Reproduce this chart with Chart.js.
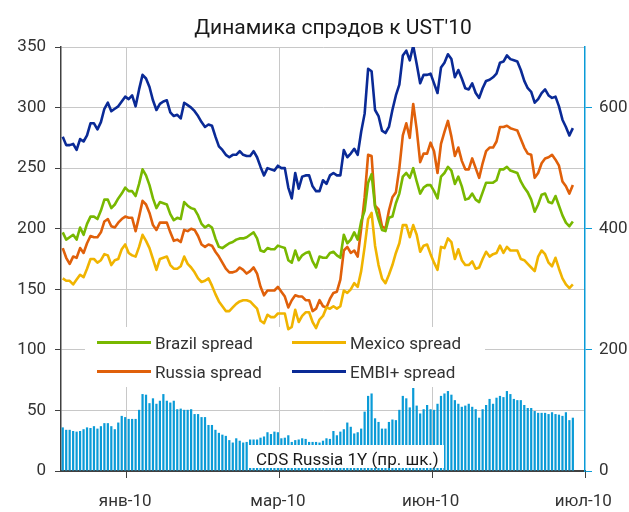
<!DOCTYPE html>
<html>
<head>
<meta charset="utf-8">
<script src="https://cdn.jsdelivr.net/npm/chart.js@4"></script>
<style>
html,body{margin:0;padding:0;background:#fff;}
#wrap{width:629px;height:512px;position:relative;}
</style>
</head>
<body>
<div id="wrap"><canvas id="c" width="629" height="512"></canvas></div>
<script>
// ---------- data ----------
const chartTitle = "Динамика спрэдов к UST'10";
const categoryCount = 151;
const categories = Array.from({length: categoryCount}, (_, i) => String(i + 1));
const tickLabels = ['янв-10', 'мар-10', 'июн-10', 'июл-10'];
const tickLabelIndex = [18, 62, 106, 150];
const tickMarkIndex = [19, 63, 107, 151];
const leftTicks = [0, 50, 100, 150, 200, 250, 300, 350];
const rightTicks = [0, 200, 400, 600];
const cdsLabel = 'CDS Russia 1Y (пр. шк.)';

const brazil = [197,191,193,195,191,201,195,204,210,210,
 208,215,224,224,217,220,225,229,234,231,
 231,227,237,249,244,236,225,217,222,221,
 220,212,207,209,208,222,219,217,216,211,
 204,201,203,201,192,185,184,186,188,189,
 191,192,192,193,195,197,192,182,181,184,
 183,183,186,185,184,174,172,182,174,178,
 180,181,173,168,177,176,176,180,181,178,
 176,195,188,191,197,191,206,215,238,245,
 218,208,199,198,209,210,221,229,243,246,
 242,250,239,229,234,236,236,231,225,243,
 246,251,248,237,243,235,224,225,229,224,
 222,230,238,238,238,240,249,249,251,248,
 247,246,239,234,230,224,214,220,228,229,
 222,221,227,219,211,205,202,206];

const mexico = [159,157,157,154,158,162,160,167,175,175,
 172,174,179,178,170,174,175,183,187,180,
 178,177,185,195,190,184,175,166,175,176,
 177,170,167,167,169,177,171,168,164,159,
 156,157,159,153,146,140,136,132,132,135,
 138,140,141,141,140,137,134,124,122,129,
 127,127,130,130,130,117,119,133,123,128,
 131,131,123,118,125,128,135,134,136,134,
 136,149,147,150,155,152,165,185,208,213,
 186,170,159,155,162,170,180,188,203,203,
 193,203,195,181,186,187,179,172,166,185,
 184,192,189,175,183,174,170,170,173,167,
 168,175,181,177,179,180,186,180,185,182,
 182,182,175,174,171,168,165,177,182,179,
 172,169,176,167,159,154,151,154];

const russia = [184,176,171,177,176,184,180,188,194,193,
 193,197,206,208,202,201,205,208,210,209,
 209,198,210,223,220,213,203,199,205,205,
 205,197,190,191,189,199,198,200,199,194,
 187,185,187,186,181,177,172,167,164,164,
 165,168,166,163,165,168,163,152,145,149,
 149,149,152,148,144,135,141,145,144,144,
 141,141,132,134,141,136,135,142,147,148,
 158,182,185,180,182,177,200,226,261,260,
 219,216,202,200,215,226,230,250,277,287,
 275,303,282,255,262,262,271,264,246,270,
 280,289,276,260,267,256,249,249,258,250,
 242,254,264,267,267,272,284,284,285,283,
 282,281,274,267,262,261,242,246,254,258,
 259,261,257,252,239,235,229,236];

const embi = [276,269,269,270,265,274,272,277,287,287,
 282,288,299,304,297,299,301,305,309,307,
 310,301,315,327,324,317,306,298,303,305,
 306,296,293,294,291,304,302,300,297,293,
 288,284,286,285,276,268,265,261,259,261,
 261,264,261,260,260,264,259,251,244,250,
 249,248,252,250,250,234,225,246,233,243,
 244,244,235,231,231,240,237,244,246,244,
 244,265,259,262,266,261,280,295,332,330,
 298,293,281,279,284,298,310,319,343,347,
 339,351,336,320,327,327,328,320,312,333,
 337,344,340,325,331,324,316,315,320,312,
 308,316,322,323,325,328,337,338,343,340,
 339,338,331,322,316,313,304,307,312,315,
 310,308,309,301,290,284,277,283];

const cdsRussia1Y = [72,68,68,66,65,66,69,72,71,74,
 70,74,79,79,74,69,80,91,89,86,
 86,86,101,127,126,112,120,111,116,127,
 116,113,116,102,103,101,101,102,94,94,
 89,89,76,76,68,63,60,58,51,47,
 54,50,47,48,52,52,52,55,57,64,
 61,65,64,54,55,59,48,51,52,54,
 53,48,48,48,47,50,54,53,66,59,
 65,69,80,73,62,64,70,98,124,128,
 87,81,70,70,81,85,84,101,124,120,
 105,137,108,95,102,109,102,101,111,124,
 128,132,126,117,111,106,108,111,106,102,
 88,102,109,119,111,121,124,122,132,127,
 119,117,117,109,104,104,99,96,96,96,
 94,97,94,93,91,97,84,88];

// ---------- styles ----------
const FONT = 'Roboto';
const TEXT = '#333333';
const GRID = '#c8c8c8';
const AXIS = '#404040';
const C_BRAZIL = '#78b800';
const C_MEXICO = '#f0b400';
const C_RUSSIA = '#e0600a';
const C_EMBI = '#0a2a96';
const C_CDS = '#0a9bd7';

Chart.defaults.font.family = FONT;
Chart.defaults.font.size = 17;
Chart.defaults.color = TEXT;

const lineDs = (label, data, color) => ({
  type: 'line', label, data, borderColor: color, backgroundColor: color,
  borderWidth: 2.6, pointRadius: 0, tension: 0, yAxisID: 'y',
  borderJoinStyle: 'round', order: 1
});

const overlay = {
  id: 'overlay',
  beforeDatasetsDraw(chart) {
    const ctx = chart.ctx;
    ctx.save();
    ctx.fillStyle = '#ffffff';
    ctx.fillRect(85, 327, 400, 60);
    const lines = chart.data.datasets.filter(d => d.type === 'line');
    const cols = [97, 292];
    const rows = [342.5, 371.5];
    lines.forEach((d, k) => {
      const x = cols[k % 2], y = rows[Math.floor(k / 2)];
      ctx.strokeStyle = d.borderColor;
      ctx.lineWidth = 3;
      ctx.beginPath(); ctx.moveTo(x, y); ctx.lineTo(x + 54, y); ctx.stroke();
      ctx.fillStyle = TEXT;
      ctx.font = '17px ' + FONT;
      ctx.textAlign = 'left';
      ctx.textBaseline = 'alphabetic';
      ctx.fillText(d.label, x + 58, y + 6.5);
    });
    ctx.restore();
  },
  afterDatasetsDraw(chart) {
    const ctx = chart.ctx;
    ctx.save();
    ctx.fillStyle = '#ffffff';
    ctx.fillRect(248, 445, 196, 23);
    ctx.fillStyle = '#1a1a1a';
    ctx.font = '17px ' + FONT;
    ctx.textAlign = 'left';
    ctx.textBaseline = 'alphabetic';
    ctx.fillText(cdsLabel, 256, 465);
    // title
    ctx.font = '21px ' + FONT;
    ctx.textAlign = 'center';
    ctx.fillStyle = '#1a1a1a';
    ctx.fillText(chartTitle, 333, 34);
    ctx.restore();
  }
};

new Chart(document.getElementById('c'), {
  type: 'bar',
  data: {
    labels: categories,
    datasets: [
      lineDs('Brazil spread', brazil, C_BRAZIL),
      lineDs('Mexico spread', mexico, C_MEXICO),
      lineDs('Russia spread', russia, C_RUSSIA),
      lineDs('EMBI+ spread', embi, C_EMBI),
      {
        type: 'bar', label: cdsLabel, data: cdsRussia1Y, yAxisID: 'y2',
        backgroundColor: C_CDS, borderWidth: 0,
        barPercentage: 0.64, categoryPercentage: 1, order: 2
      }
    ]
  },
  options: {
    responsive: false,
    animation: false,
    devicePixelRatio: 1,
    layout: { padding: { top: 47, left: 0, right: 0, bottom: 0 } },
    plugins: { legend: { display: false }, title: { display: false }, tooltip: { enabled: false } },
    scales: {
      x: {
        type: 'category',
        offset: true,
        grid: {
          offset: true,
          color: c => (c.index !== undefined && tickMarkIndex.includes(c.index)) ? GRID : 'rgba(0,0,0,0)',
          tickColor: c => {
            const idx = c.index === undefined ? categoryCount : c.index;
            return tickMarkIndex.includes(idx) ? AXIS : 'rgba(0,0,0,0)';
          },
          tickLength: 7,
          lineWidth: 1
        },
        border: { color: AXIS, width: 2 },
        ticks: {
          autoSkip: false, maxRotation: 0, minRotation: 0, padding: 14,
          color: TEXT, font: { size: 17 },
          callback: (v, i) => {
            const k = tickLabelIndex.indexOf(i);
            return k >= 0 ? tickLabels[k] : '';
          }
        },
        afterFit: s => { s.height = 41; s.paddingLeft = 0; s.paddingRight = 0; }
      },
      y: {
        position: 'left', min: 0, max: 350,
        grid: { color: GRID, tickColor: AXIS, tickLength: 6, lineWidth: 1 },
        border: { color: AXIS, width: 1.5 },
        ticks: { stepSize: 50, padding: 9, color: TEXT, font: { size: 17 } },
        afterBuildTicks: s => { s.ticks = leftTicks.map(v => ({ value: v })); },
        afterFit: s => { s.width = 61; }
      },
      y2: {
        position: 'right', min: 0, max: 700,
        grid: { drawOnChartArea: false, tickColor: C_CDS, tickLength: 7 },
        border: { color: C_CDS, width: 1.5 },
        ticks: { padding: 7, color: TEXT, font: { size: 17 } },
        afterBuildTicks: s => { s.ticks = rightTicks.map(v => ({ value: v })); },
        afterFit: s => { s.width = 44; }
      }
    }
  },
  plugins: [overlay]
});
</script>
</body>
</html>
